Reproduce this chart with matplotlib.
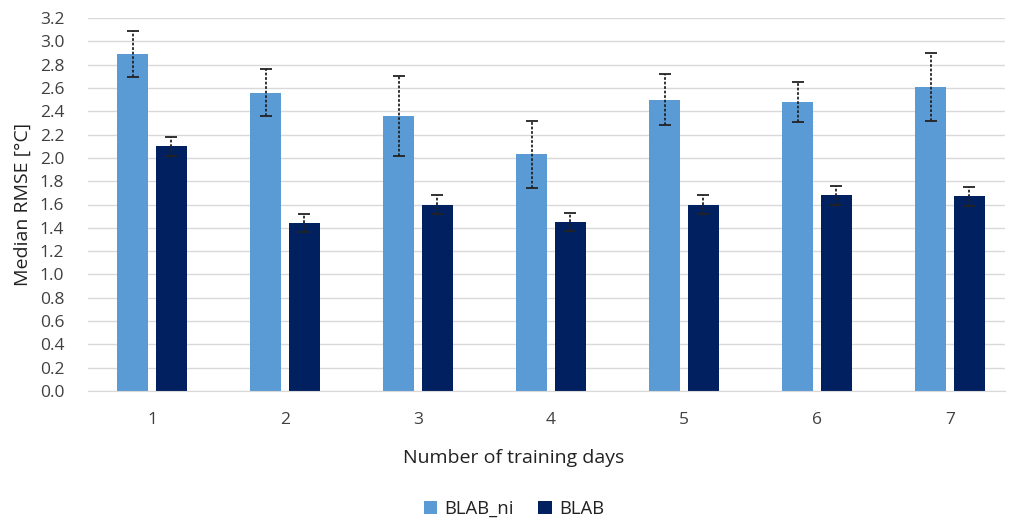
import matplotlib
matplotlib.use("Agg")
import matplotlib.pyplot as plt
import numpy as np

plt.rcParams['font.family'] = ['Open Sans', 'DejaVu Sans']

days = ["1", "2", "3", "4", "5", "6", "7"]
blab_ni = [2.89, 2.56, 2.36, 2.03, 2.50, 2.48, 2.61]
blab_ni_err = [0.20, 0.20, 0.34, 0.29, 0.22, 0.17, 0.29]
blab = [2.10, 1.44, 1.60, 1.45, 1.60, 1.68, 1.67]
blab_err = [0.08, 0.08, 0.08, 0.08, 0.08, 0.08, 0.08]
y_ticks = [0.0, 0.2, 0.4, 0.6, 0.8, 1.0, 1.2, 1.4, 1.6, 1.8, 2.0, 2.2, 2.4, 2.6, 2.8, 3.0, 3.2]

c_ni = "#5B9BD5"
c_blab = "#002060"

W, H = 1009, 519
fig = plt.figure(figsize=(W / 100, H / 100), dpi=100)
ax = fig.add_axes([88 / W, 128 / H, (1005 - 88) / W, (391 - 18) / H])

x = np.arange(1, len(days) + 1)
w = 0.23
off = 0.145

ax.bar(x - off, blab_ni, width=w, color=c_ni, label="BLAB_ni", zorder=2)
ax.bar(x + off, blab, width=w, color=c_blab, label="BLAB", zorder=2)

for xs, ys, es in [(x - off, blab_ni, blab_ni_err), (x + off, blab, blab_err)]:
    _, caps, cols = ax.errorbar(xs, ys, yerr=es, fmt="none", ecolor="#222222",
                                elinewidth=1.3, capsize=4, capthick=1.3, zorder=3)
    for c in cols:
        c.set_linestyle((0, (1.5, 1.0)))

ax.set_xlim(1 + (88 - 152) / 133, 1 + (1005 - 152) / 133)
ax.set_ylim(0, 3.2)
ax.set_yticks(y_ticks)
ax.set_yticklabels([f"{v:.1f}" for v in y_ticks])
ax.set_xticks(x)
ax.set_xticklabels(days)

ax.yaxis.grid(True, color="#D9D9D9", linewidth=1.0, zorder=0)
ax.set_axisbelow(True)
for s in ["top", "right", "left"]:
    ax.spines[s].set_visible(False)
ax.spines["bottom"].set_color("#D9D9D9")
ax.tick_params(axis="both", length=0, labelsize=12.5, colors="#404040")
ax.tick_params(axis="x", pad=15)
ax.tick_params(axis="y", pad=17)

ax.set_xlabel("Number of training days", fontsize=14, color="#222222", labelpad=16)
ax.xaxis.set_label_coords((514 - 88) / (1005 - 88), -0.155)
ax.xaxis.label.set_verticalalignment("top")
ax.set_ylabel("Median RMSE [°C]", fontsize=14, color="#222222", labelpad=6)

leg = ax.legend(loc="center", bbox_to_anchor=((514 - 88) / (1005 - 88), (391 - 509) / (391 - 18)),
                ncol=2, frameon=False, fontsize=13.3, handlelength=0.75, handleheight=0.75,
                handletextpad=0.4, columnspacing=1.3, labelcolor="#222222")

fig.savefig("out.png", dpi=100)
